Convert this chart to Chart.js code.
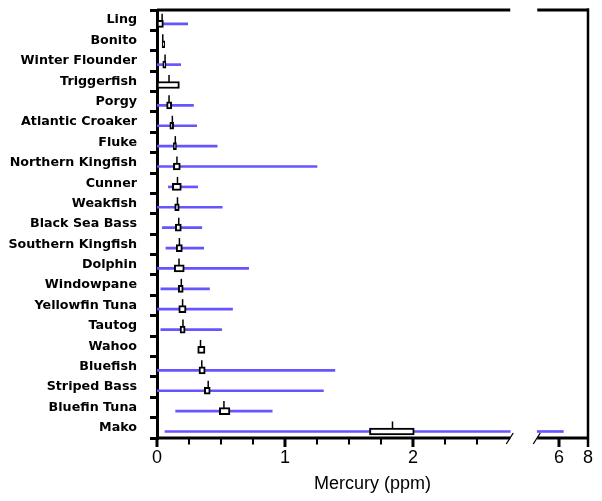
<!DOCTYPE html>
<html>
<head>
<meta charset="utf-8">
<script src="https://cdn.jsdelivr.net/npm/chart.js@4"></script>
<style>
  html, body { margin: 0; padding: 0; background: #fff; }
</style>
</head>
<body>
<canvas id="chart" width="602" height="501"></canvas>
<script>
const fish = [
  "Ling", "Bonito", "Winter Flounder", "Triggerfish", "Porgy",
  "Atlantic Croaker", "Fluke", "Northern Kingfish", "Cunner", "Weakfish",
  "Black Sea Bass", "Southern Kingfish", "Dolphin", "Windowpane",
  "Yellowfin Tuna", "Tautog", "Wahoo", "Bluefish", "Striped Bass",
  "Bluefin Tuna", "Mako",
];

// blue line: full range of measured values (null = no line drawn)
const rangeLo = [0.0, null, 0.0, null, 0.0, 0.0, 0.0, 0.0, 0.089, 0.0,
  0.042, 0.07, 0.0, 0.03, 0.0, 0.03, null, 0.0, 0.0, 0.146, 0.0625];
const rangeHi = [0.24, null, 0.185, null, 0.285, 0.31, 0.47, 1.25, 0.318, 0.51,
  0.35, 0.365, 0.716, 0.41, 0.59, 0.505, null, 1.39, 1.30, 0.90, 6.3];

// box edges
const boxLo = [0.0, 0.04, 0.045, 0.0, 0.075, 0.10, 0.128, 0.128, 0.12, 0.138,
  0.143, 0.15, 0.135, 0.166, 0.17, 0.18, 0.318, 0.328, 0.37, 0.487, 1.66];
const boxHi = [0.05, 0.06, 0.07, 0.175, 0.115, 0.13, 0.152, 0.182, 0.19, 0.174,
  0.19, 0.198, 0.213, 0.205, 0.227, 0.22, 0.375, 0.377, 0.416, 0.57, 2.01];

// small vertical mark above each box
const markVal = [0.04, 0.045, 0.063, 0.094, 0.094, 0.12, 0.143, 0.156, 0.16, 0.16,
  0.17, 0.175, 0.172, 0.19, 0.2, 0.203, 0.34, 0.35, 0.40, 0.523, 1.84];

const xTickVals = [0, 1, 2, 6, 8];
const xTickText = ["0", "1", "2", "6", "8"];

// broken axis: 0..2.76 at full scale, then 4.5..8 compressed
const breakLo = 2.76;
const breakHi = 4.5;
const gapU = 0.211;
const hiScale = 0.1133;
const u = (v) => (v <= breakLo ? v : breakLo + gapU + (v - breakHi) * hiScale);

const ROW_SHIFT = 0.18;   // line/box sit a little below the label centre
const MARK_SHIFT = -0.14; // mark sits just above the box
const BLUE = "#6655ff";

const rangeData = [];
fish.forEach((f, i) => {
  const lo = rangeLo[i], hi = rangeHi[i];
  if (lo === null || hi === null) return;
  if (hi > breakHi && lo < breakLo) {
    rangeData.push({ x: [u(lo), u(breakLo)], y: i + ROW_SHIFT });
    rangeData.push({ x: [u(breakHi), u(hi)], y: i + ROW_SHIFT });
  } else {
    rangeData.push({ x: [u(lo), u(hi)], y: i + ROW_SHIFT });
  }
});
const boxData = fish.map((f, i) => ({ x: [u(boxLo[i]), u(boxHi[i])], y: i + ROW_SHIFT }));
const markData = fish.map((f, i) => ({ x: u(markVal[i]), y: i + MARK_SHIFT }));

// frame, x ticks and break marks
const framePlugin = {
  id: "frame",
  afterDraw(chart) {
    const { ctx, chartArea } = chart;
    const x = chart.scales.x;
    const L = chartArea.left, R = chartArea.right, T = chartArea.top, B = chartArea.bottom;
    const b1 = x.getPixelForValue(u(breakLo));
    const b2 = x.getPixelForValue(u(breakHi));
    ctx.save();
    ctx.strokeStyle = "#000";
    ctx.lineCap = "butt";

    ctx.lineWidth = 3;
    ctx.beginPath();
    ctx.moveTo(L, T); ctx.lineTo(b1, T);
    ctx.moveTo(b2, T); ctx.lineTo(R + 1, T);
    ctx.moveTo(L, B); ctx.lineTo(b1, B);
    ctx.moveTo(b2, B); ctx.lineTo(R + 1, B);
    ctx.stroke();

    ctx.lineWidth = 2.5;
    ctx.beginPath();
    ctx.moveTo(R, T - 1.5); ctx.lineTo(R, B + 9);
    ctx.stroke();

    // major ticks
    ctx.lineWidth = 3;
    ctx.beginPath();
    [0, 1, 2, 6].forEach((v) => {
      const px = x.getPixelForValue(u(v));
      ctx.moveTo(px, B); ctx.lineTo(px, B + 9);
    });
    ctx.stroke();

    // minor ticks every 0.25
    ctx.lineWidth = 2;
    ctx.beginPath();
    for (let v = 0.25; v < breakLo - 0.1; v += 0.25) {
      if (Math.abs(v - Math.round(v)) < 1e-6) continue;
      const px = Math.round(x.getPixelForValue(u(v)));
      ctx.moveTo(px, B); ctx.lineTo(px, B + 6.5);
    }
    ctx.stroke();

    // break slashes
    ctx.lineWidth = 1.3;
    ctx.beginPath();
    [b1, b2].forEach((px) => {
      ctx.moveTo(px - 4, B + 6); ctx.lineTo(px + 3, B - 5);
    });
    ctx.stroke();
    ctx.restore();
  },
};

const noPad = (scale) => {
  scale.paddingTop = 0;
  scale.paddingBottom = 0;
  scale.paddingLeft = 0;
  scale.paddingRight = 0;
};

new Chart(document.getElementById("chart"), {
  type: "bar",
  data: {
    datasets: [
      {
        label: "range",
        data: rangeData,
        indexAxis: "y",
        xAxisID: "x",
        yAxisID: "yv",
        grouped: false,
        barThickness: 2,
        backgroundColor: BLUE,
        borderWidth: 0,
        order: 3,
      },
      {
        label: "box",
        data: boxData,
        indexAxis: "y",
        xAxisID: "x",
        yAxisID: "yv",
        grouped: false,
        barThickness: 7,
        backgroundColor: "#fff",
        borderColor: "#000",
        borderWidth: 2,
        borderSkipped: false,
        order: 2,
      },
      {
        type: "scatter",
        label: "mark",
        data: markData,
        xAxisID: "x",
        yAxisID: "yv",
        pointStyle: "line",
        rotation: 90,
        radius: 3.5,
        borderWidth: 1.5,
        borderColor: "#000",
        order: 1,
      },
    ],
  },
  options: {
    responsive: false,
    animation: false,
    layout: { padding: { top: 10, right: 14, left: 0, bottom: 0 } },
    plugins: { legend: { display: false }, tooltip: { enabled: false } },
    scales: {
      x: {
        type: "linear",
        position: "bottom",
        offset: false,
        min: 0,
        max: u(8),
        grid: { display: false, drawTicks: false, offset: false },
        border: { display: false },
        afterBuildTicks: (scale) => {
          scale.ticks = xTickVals.map((v) => ({ value: u(v) }));
        },
        afterFit: (scale) => { scale.height = 63; noPad(scale); },
        ticks: {
          autoSkip: false,
          maxRotation: 0,
          padding: 9,
          color: "#000",
          font: { family: "'Liberation Sans', Arial, sans-serif", size: 18 },
          callback: (val, idx) => xTickText[idx],
        },
        title: {
          display: true,
          text: "Mercury (ppm)",
          color: "#000",
          font: { family: "'Liberation Sans', Arial, sans-serif", size: 18 },
          padding: { top: 0, bottom: 6 },
        },
      },
      y: {
        type: "category",
        position: "left",
        labels: fish,
        offset: true,
        afterFit: (scale) => { scale.width = 157; noPad(scale); },
        grid: {
          offset: true,
          drawOnChartArea: false,
          drawTicks: true,
          tickLength: 7,
          lineWidth: 3,
          color: "#000",
        },
        border: { display: true, width: 3, color: "#000" },
        ticks: {
          padding: 13,
          color: "#000",
          autoSkip: false,
          font: { family: "'DejaVu Sans', Verdana, sans-serif", size: 12.7, weight: "bold" },
        },
      },
      yv: {
        type: "linear",
        display: false,
        offset: false,
        min: -0.5,
        max: fish.length - 0.5,
        reverse: true,
      },
    },
  },
  plugins: [framePlugin],
});
</script>
</body>
</html>
